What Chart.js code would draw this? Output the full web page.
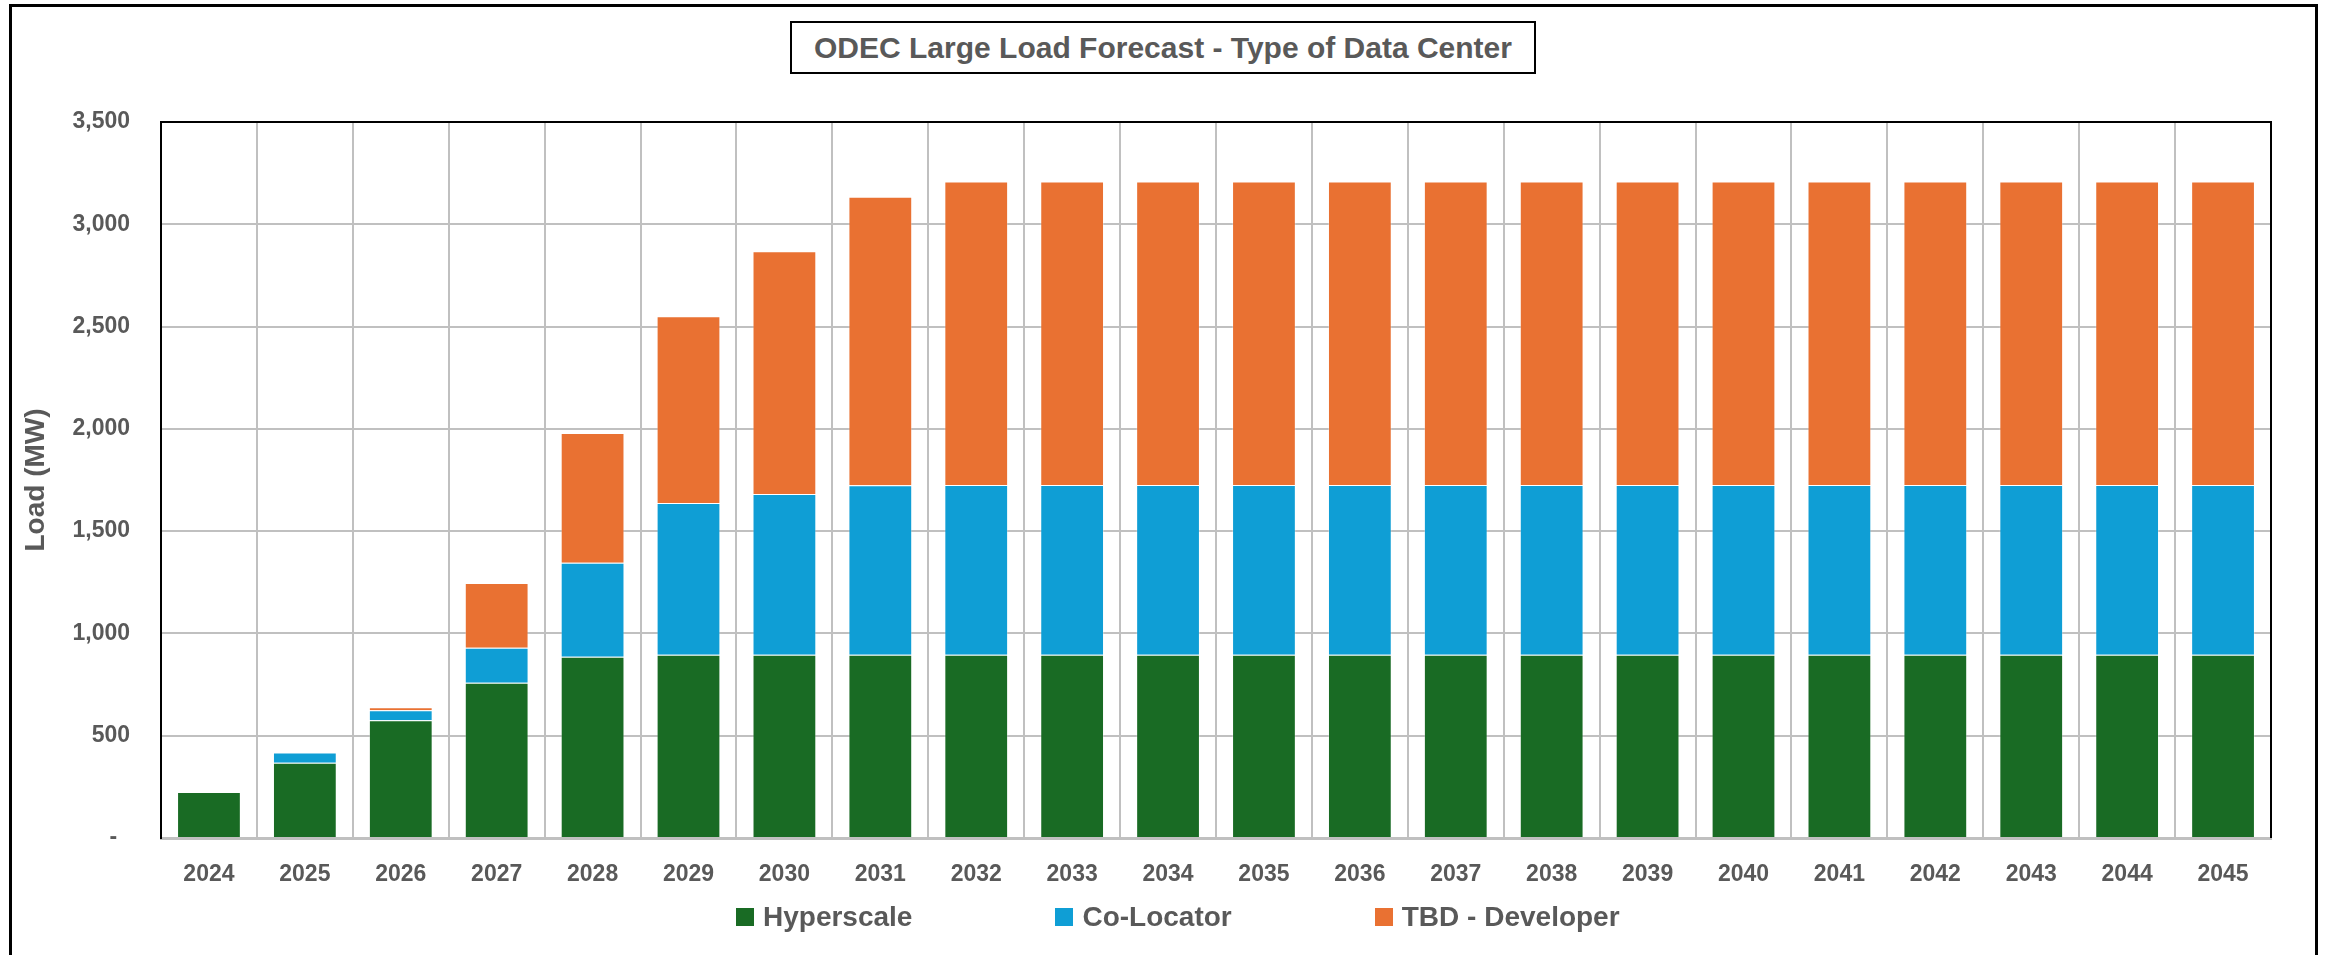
<!DOCTYPE html>
<html>
<head>
<meta charset="utf-8">
<script src="https://cdn.jsdelivr.net/npm/chart.js@4.4.1/dist/chart.umd.min.js"></script>
<style>
  html, body { margin: 0; padding: 0; background: #fff; }
  #wrap { position: relative; width: 2325px; height: 955px; overflow: hidden;
          font-family: "Liberation Sans", Arial, sans-serif; color: #595959; }
  #frame { position: absolute; left: 9px; top: 4px; width: 2309px; height: 1000px;
           border: 3px solid #000; box-sizing: border-box; }
  #chart { position: absolute; left: 0; top: 0; }
  #title { position: absolute; left: 790px; top: 21px; width: 746px; height: 53px;
           border: 2px solid #000; box-sizing: border-box; background: #fff;
           font-weight: bold; font-size: 30px; line-height: 49px; text-align: center; }
  #legend { position: absolute; left: 736px; top: 903px; height: 28px;
            display: flex; align-items: center; }
  .lg-item { display: flex; align-items: center; margin-right: 143px; }
  .lg-box { width: 18px; height: 18px; margin-right: 9px; }
  .lg-text { font-weight: bold; font-size: 28px; line-height: 28px; }
</style>
</head>
<body>
<div id="wrap">
  <div id="frame"></div>
  <canvas id="chart" width="2325" height="955"></canvas>
  <div id="title">ODEC Large Load Forecast - Type of Data Center</div>
  <div id="legend"></div>
</div>
<script>
// ── Data ──────────────────────────────────────────────────────────────────────
const years = ['2024','2025','2026','2027','2028','2029','2030','2031','2032','2033','2034',
               '2035','2036','2037','2038','2039','2040','2041','2042','2043','2044','2045'];
const hyperscale   = [225, 368, 575, 759, 886, 896, 896, 896, 896, 896, 896,
                      896, 896, 896, 896, 896, 896, 896, 896, 896, 896, 896];
const coLocator    = [0, 50, 49, 171, 460, 741, 786, 828, 830, 830, 830,
                      830, 830, 830, 830, 830, 830, 830, 830, 830, 830, 830];
const tbdDeveloper = [0, 0, 15, 316, 634, 914, 1186, 1410, 1483, 1483, 1483,
                      1483, 1483, 1483, 1483, 1483, 1483, 1483, 1483, 1483, 1483, 1483];
const seriesNames  = ['Hyperscale', 'Co-Locator', 'TBD - Developer'];
const seriesColors = ['#196B24', '#0F9ED5', '#E97132'];
const yTicks = [0, 500, 1000, 1500, 2000, 2500, 3000, 3500];

const FONT = '"Liberation Sans", Arial, sans-serif';
const GREY = '#595959';
const GRID = '#c0c0c0';

// ── Plot frame (top + right edges in black) ───────────────────────────────────
const framePlugin = {
  id: 'plotFrame',
  afterDraw(chart) {
    const { ctx, chartArea: a } = chart;
    ctx.save();
    ctx.strokeStyle = '#000';
    ctx.lineWidth = 2;
    ctx.beginPath();
    ctx.moveTo(a.left, a.top);
    ctx.lineTo(a.right, a.top);
    ctx.lineTo(a.right, a.bottom);
    ctx.stroke();
    ctx.restore();
  }
};

const series = [hyperscale, coLocator, tbdDeveloper];

new Chart(document.getElementById('chart').getContext('2d'), {
  type: 'bar',
  data: {
    labels: years,
    datasets: series.map((d, i) => ({
      label: seriesNames[i],
      data: d,
      backgroundColor: seriesColors[i],
      borderColor: 'rgba(255,255,255,0.28)',
      borderWidth: 1,
      categoryPercentage: 1,
      barPercentage: 0.665
    }))
  },
  options: {
    responsive: false,
    animation: false,
    layout: { padding: { top: 122, right: 54, bottom: 0, left: 0 } },
    plugins: { legend: { display: false }, tooltip: { enabled: false }, title: { display: false } },
    scales: {
      x: {
        stacked: true,
        grid: { color: GRID, lineWidth: 2, drawTicks: false, offset: true },
        border: { color: GRID, width: 3 },
        ticks: { color: GREY, font: { family: FONT, size: 23, weight: 'bold' }, padding: 23 },
        afterFit: s => { s.height = 117; }
      },
      y: {
        stacked: true,
        min: 0, max: 3500,
        afterBuildTicks: s => { s.ticks = yTicks.map(v => ({ value: v })); },
        grid: { color: GRID, lineWidth: 2, drawTicks: false },
        border: { color: '#000', width: 2 },
        ticks: {
          color: GREY, padding: 31,
          font: { family: FONT, size: 23, weight: 'bold' },
          callback: v => v === 0 ? '-  ' : v.toLocaleString('en-US')
        },
        title: {
          display: true, text: 'Load (MW)', color: GREY,
          font: { family: FONT, size: 28, weight: 'bold' },
          padding: { top: 19, bottom: 0 }
        },
        afterFit: s => { s.width = 161; }
      }
    }
  },
  plugins: [framePlugin]
});

// ── Legend ────────────────────────────────────────────────────────────────────
document.getElementById('legend').innerHTML = seriesNames.map((n, i) => `
  <div class="lg-item"${i === seriesNames.length - 1 ? ' style="margin-right:0"' : ''}>
    <div class="lg-box" style="background:${seriesColors[i]}"></div>
    <div class="lg-text">${n}</div>
  </div>`).join('');
</script>
</body>
</html>
